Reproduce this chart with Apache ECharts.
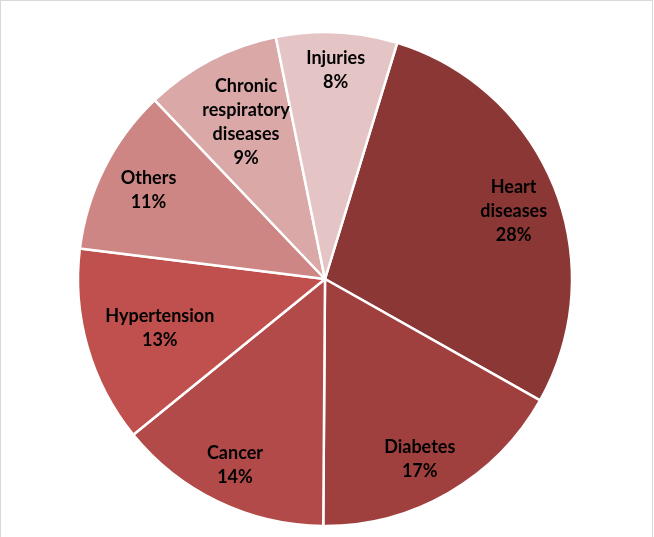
<!DOCTYPE html>
<html>
<head>
<meta charset="utf-8">
<script src="https://cdn.jsdelivr.net/npm/echarts@6/dist/echarts.min.js"></script>
<style>
  html, body { margin: 0; padding: 0; background: #fff; }
  #frame {
    position: absolute; left: 0; top: 0;
    width: 651px; height: 540px;
    border: 1px solid #d9d9d9;
  }
  #main { position: absolute; left: 0; top: 0; width: 654px; height: 537px; }
</style>
</head>
<body>
<div id="frame"></div>
<div id="main"></div>
<script>
// causes of death, share in percent (clockwise from the Heart slice)
const categories = ["Heart diseases", "Diabetes", "Cancer", "Hypertension", "Others", "Chronic respiratory diseases", "Injuries"];
const shares = [28.4, 16.9, 14.0, 12.8, 10.9, 8.9, 7.9];
const colors = ["#8B3735", "#A0403E", "#B14A48", "#C0504D", "#CD8683", "#D9A8A7", "#E5C4C5"];
// small nudges so labels sit where the original placed them
const labelShift = [[2, 7], [-6, 6], [-3, 5], [28, -6], [3, 2], [14, 21], [1, -8]];

const chart = echarts.init(document.getElementById("main"));
chart.setOption({
  animation: false,
  series: [
    {
      // visible slices
      type: "pie",
      center: [325, 279],
      radius: [0, 247],
      startAngle: 73,
      clockwise: true,
      silent: true,
      label: { show: false },
      labelLine: { show: false },
      itemStyle: { borderColor: "#fff", borderWidth: 2.5 },
      data: categories.map((name, i) => ({
        name: name,
        value: shares[i],
        itemStyle: { color: colors[i] }
      }))
    },
    {
      // invisible ring only used to place the labels further out
      type: "pie",
      center: [325, 279],
      radius: [150, 246],
      startAngle: 73,
      clockwise: true,
      silent: true,
      itemStyle: { color: "rgba(0,0,0,0)" },
      label: {
        show: true,
        position: "inside",
        color: "#000",
        fontFamily: "Lato, 'Open Sans', sans-serif",
        fontWeight: "bold",
        fontSize: 18,
        lineHeight: 24,
        formatter: p => p.name.split(" ").join("\n") + "\n" + Math.round(p.value) + "%"
      },
      labelLine: { show: false },
      data: categories.map((name, i) => ({
        name: name,
        value: shares[i],
        label: { offset: labelShift[i] }
      }))
    }
  ]
});
</script>
</body>
</html>
